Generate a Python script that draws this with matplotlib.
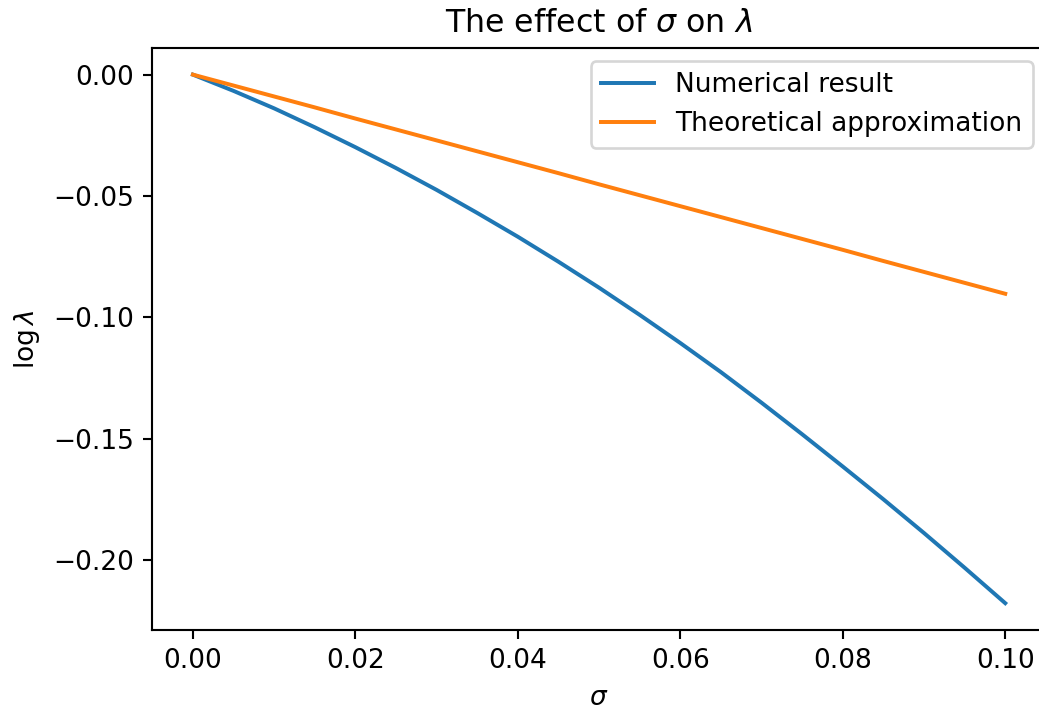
import numpy as np
import matplotlib
matplotlib.use("Agg")
import matplotlib.pyplot as plt

# sigma grid and the two curves
sigma = [0.000, 0.005, 0.010, 0.015, 0.020, 0.025, 0.030, 0.035, 0.040, 0.045,
         0.050, 0.055, 0.060, 0.065, 0.070, 0.075, 0.080, 0.085, 0.090, 0.095,
         0.100]
log_lambda_num = [0.0, -0.0067, -0.0139, -0.0217, -0.0299, -0.0385, -0.0475,
                  -0.0570, -0.0668, -0.0771, -0.0878, -0.0990, -0.1106,
                  -0.1226, -0.1352, -0.1482, -0.1615, -0.1750, -0.1889,
                  -0.2032, -0.2178]
log_lambda_theory = [0.0, -0.0045, -0.0090, -0.0135, -0.0181, -0.0226, -0.0271,
                     -0.0316, -0.0361, -0.0406, -0.0452, -0.0497, -0.0542,
                     -0.0587, -0.0632, -0.0677, -0.0722, -0.0768, -0.0813,
                     -0.0858, -0.0903]

DPI = 190
fig = plt.figure(figsize=(1039 / DPI, 709 / DPI), dpi=DPI)
# right spine sits just past the right edge of the image in the reference
ax = fig.add_axes([0.1466, 0.1120, 0.8600, 0.8200])

ax.plot(sigma, log_lambda_num, label='Numerical result')
ax.plot(sigma, log_lambda_theory, label='Theoretical approximation')

ax.set_xlabel(r'$\sigma$')
ax.set_ylabel(r'$\log\lambda$')
ax.set_title(r'The effect of $\sigma$ on $\lambda$')
ax.legend(loc='upper right')

fig.savefig('out.png', dpi=DPI)
